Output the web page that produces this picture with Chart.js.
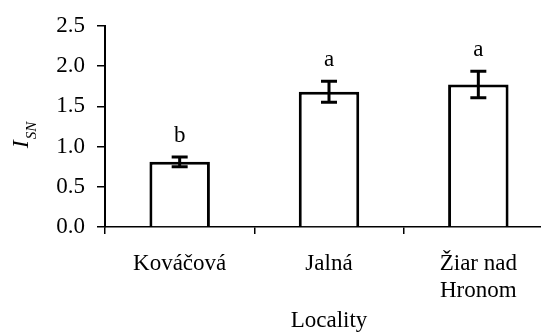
<!DOCTYPE html>
<html>
<head>
<meta charset="utf-8">
<script src="https://cdn.jsdelivr.net/npm/chart.js@4"></script>
<style>
  body { margin: 0; overflow: hidden; background: #fff; }
  #wrap { width: 541px; height: 335px; overflow: hidden; }
</style>
</head>
<body>
<div id="wrap"><canvas id="myChart" width="553" height="335"></canvas></div>
<script>
var localities = ['Kováčová', 'Jalná', ['Žiar nad', 'Hronom']];
var isnValues = [0.81, 1.68, 1.77];
var isnErrors = [0.06, 0.13, 0.165];
var groupLetters = ['b', 'a', 'a'];
var yTicks = [0, 0.5, 1, 1.5, 2, 2.5];

var serif = '"Liberation Serif", "Times New Roman", serif';

// error bars + significance letters
var extras = {
    id: 'extras',
    afterDatasetsDraw: function (chart) {
        var ctx = chart.ctx;
        var y = chart.scales.y;
        var meta = chart.getDatasetMeta(0);
        ctx.save();
        ctx.strokeStyle = '#000';
        ctx.lineWidth = 3;
        ctx.fillStyle = '#000';
        ctx.font = '23px ' + serif;
        ctx.textAlign = 'center';
        ctx.textBaseline = 'alphabetic';
        meta.data.forEach(function (bar, i) {
            var top = y.getPixelForValue(isnValues[i] + isnErrors[i]);
            var bot = y.getPixelForValue(isnValues[i] - isnErrors[i]);
            ctx.beginPath();
            ctx.moveTo(bar.x, top);
            ctx.lineTo(bar.x, bot);
            ctx.moveTo(bar.x - 8, top);
            ctx.lineTo(bar.x + 8, top);
            ctx.moveTo(bar.x - 8, bot);
            ctx.lineTo(bar.x + 8, bot);
            ctx.stroke();
            ctx.fillText(groupLetters[i], bar.x, top - 15);
        });
        ctx.restore();
    }
};

// rotated y title: I with subscript SN
var yTitle = {
    id: 'yTitle',
    afterDraw: function (chart) {
        var ctx = chart.ctx;
        ctx.save();
        ctx.translate(28, 135);
        ctx.rotate(-Math.PI / 2);
        ctx.fillStyle = '#000';
        ctx.textBaseline = 'alphabetic';
        ctx.font = 'italic 24px ' + serif;
        var w1 = ctx.measureText('I').width;
        ctx.font = 'italic 15px ' + serif;
        var w2 = ctx.measureText('SN').width;
        var x0 = -(w1 + w2 + 1) / 2;
        ctx.font = 'italic 24px ' + serif;
        ctx.fillText('I', x0, 0);
        ctx.font = 'italic 15px ' + serif;
        ctx.fillText('SN', x0 + w1 + 1, 8);
        ctx.restore();
    }
};

var c = document.getElementById('myChart');
var chart = new Chart(c.getContext('2d'), {
    type: 'bar',
    data: {
        labels: localities,
        datasets: [{
            data: isnValues,
            backgroundColor: '#fff',
            borderColor: '#000',
            borderWidth: 3,
            barPercentage: 0.405,
            categoryPercentage: 1
        }]
    },
    options: {
        responsive: false,
        animation: false,
        layout: { padding: { top: 24, left: 0, right: 0, bottom: 0 } },
        plugins: {
            legend: { display: false },
            tooltip: { enabled: false }
        },
        scales: {
            x: {
                grid: { offset: true, drawOnChartArea: false, drawTicks: true, tickLength: 7, color: '#000', lineWidth: 1.5 },
                border: { color: '#000', width: 1.5 },
                ticks: { color: '#000', font: { family: serif, size: 23, lineHeight: 1.2 }, padding: 16, maxRotation: 0 },
                title: { display: true, text: 'Locality', color: '#000', font: { family: serif, size: 23 }, padding: { top: 0, bottom: 0 } },
                afterFit: function (s) { s.height = 108; }
            },
            y: {
                min: 0,
                max: 2.5,
                afterBuildTicks: function (s) { s.ticks = yTicks.map(function (v) { return { value: v }; }); },
                grid: { drawOnChartArea: false, drawTicks: true, tickLength: 8, color: '#000', lineWidth: 1.5 },
                border: { color: '#000', width: 2 },
                ticks: {
                    color: '#000',
                    font: { family: serif, size: 23 },
                    padding: 12,
                    callback: function (v) { return Number(v).toFixed(1); }
                },
                afterFit: function (s) { s.width = 105; }
            }
        }
    },
    plugins: [extras, yTitle]
});
</script>
</body>
</html>
